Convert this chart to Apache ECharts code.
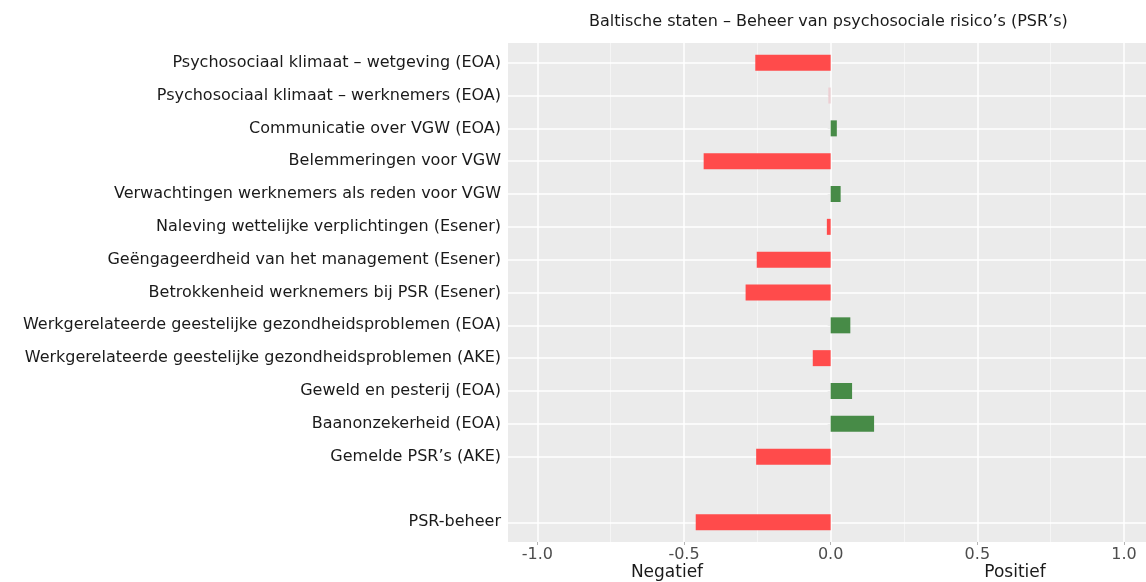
<!DOCTYPE html>
<html>
<head>
  <meta charset="utf-8">
  <title>Baltische staten</title>
  <script src="https://cdn.jsdelivr.net/npm/echarts@6/dist/echarts.min.js"></script>
  <style>
    html, body { margin: 0; padding: 0; background: #fff; }
    #chart { width: 1146px; height: 582px; }
  </style>
</head>
<body>
  <div id="chart"></div>
  <script>
    // categories top to bottom, '' is the empty row above PSR-beheer
    var categories = [
      'Psychosociaal klimaat – wetgeving (EOA)',
      'Psychosociaal klimaat – werknemers (EOA)',
      'Communicatie over VGW (EOA)',
      'Belemmeringen voor VGW',
      'Verwachtingen werknemers als reden voor VGW',
      'Naleving wettelijke verplichtingen (Esener)',
      'Geëngageerdheid van het management (Esener)',
      'Betrokkenheid werknemers bij PSR (Esener)',
      'Werkgerelateerde geestelijke gezondheidsproblemen (EOA)',
      'Werkgerelateerde geestelijke gezondheidsproblemen (AKE)',
      'Geweld en pesterij (EOA)',
      'Baanonzekerheid (EOA)',
      'Gemelde PSR’s (AKE)',
      '',
      'PSR-beheer'
    ];
    var values = [-0.257, -0.008, 0.021, -0.433, 0.034, -0.013, -0.252, -0.29,
                  0.067, -0.061, 0.073, 0.148, -0.254, null, -0.46];
    var xTicks = [-1, -0.5, 0, 0.5, 1];
    var xMinorTicks = [-0.75, -0.25, 0.25, 0.75];

    var RED = '#ff4b4b', GREEN = '#478b47', FAINT = '#eccfd3';
    var font = 'DejaVu Sans';

    var chart = echarts.init(document.getElementById('chart'));

    var vLines = xTicks.map(function (v) {
      return { xAxis: v, lineStyle: { color: '#ffffff', width: 1.5, type: 'solid' } };
    }).concat(xMinorTicks.map(function (v) {
      return { xAxis: v, lineStyle: { color: '#f5f5f5', width: 1, type: 'solid' } };
    }));
    var hLines = categories.filter(function (c) { return c !== ''; }).map(function (c) {
      return { yAxis: c };
    });

    var option = {
      animation: false,
      title: {
        text: 'Baltische staten – Beheer van psychosociale risico’s (PSR’s)',
        left: 584,
        top: 9,
        textStyle: { fontFamily: font, fontSize: 16, fontWeight: 'normal', color: '#1a1a1a' }
      },
      grid: [
        // panel + x axis
        { left: 508, right: 0, top: 43, bottom: 40, show: true, backgroundColor: '#ebebeb', borderWidth: 0 },
        // bars, inset so categories sit like ggplot's discrete expansion
        { left: 508, right: 0, top: 46.3, bottom: 43.3 }
      ],
      xAxis: [
        {
          type: 'value', gridIndex: 0, min: -1.1, max: 1.075,
          splitLine: { show: false },
          axisLine: { show: false },
          axisTick: { show: true, customValues: xTicks, length: 3, lineStyle: { color: '#b4b4b4' } },
          axisLabel: {
            customValues: xTicks,
            formatter: function (v) { return v.toFixed(1); },
            fontFamily: font, fontSize: 16, color: '#4d4d4d', margin: 5
          }
        },
        {
          type: 'value', gridIndex: 1, min: -1.1, max: 1.075, show: false,
          splitLine: { show: false }
        }
      ],
      yAxis: [
        { type: 'value', gridIndex: 0, min: 0, max: 1, show: false, splitLine: { show: false } },
        {
          type: 'category', gridIndex: 1, data: categories, inverse: true,
          axisLine: { show: false },
          splitLine: { show: false },
          axisTick: {
            show: true, alignWithLabel: true, length: 3,
            interval: function (i, v) { return v !== ''; },
            lineStyle: { color: '#b4b4b4' }
          },
          axisLabel: { interval: 0, fontFamily: font, fontSize: 16, color: '#1a1a1a', margin: 7 }
        }
      ],
      graphic: [
        { type: 'text', x: 667, y: 573, style: { text: 'Negatief', fontFamily: font, fontSize: 17, fill: '#1a1a1a', textAlign: 'center', textVerticalAlign: 'middle' } },
        { type: 'text', x: 1015, y: 573, style: { text: 'Positief', fontFamily: font, fontSize: 17, fill: '#1a1a1a', textAlign: 'center', textVerticalAlign: 'middle' } }
      ],
      series: [
        {
          // vertical grid lines over the whole panel
          type: 'line', xAxisIndex: 0, yAxisIndex: 0, data: [], silent: true,
          markLine: { silent: true, z: 1, symbol: 'none', label: { show: false }, data: vLines }
        },
        {
          type: 'bar', xAxisIndex: 1, yAxisIndex: 1, data: values, barWidth: 16, z: 3,
          itemStyle: {
            color: function (p) {
              if (p.value >= 0) return GREEN;
              return p.value > -0.01 ? FAINT : RED;
            }
          },
          markLine: {
            silent: true, z: 1, symbol: 'none', label: { show: false },
            lineStyle: { color: '#ffffff', width: 1.5, type: 'solid' },
            data: hLines
          }
        }
      ]
    };
    chart.setOption(option);
  </script>
</body>
</html>
